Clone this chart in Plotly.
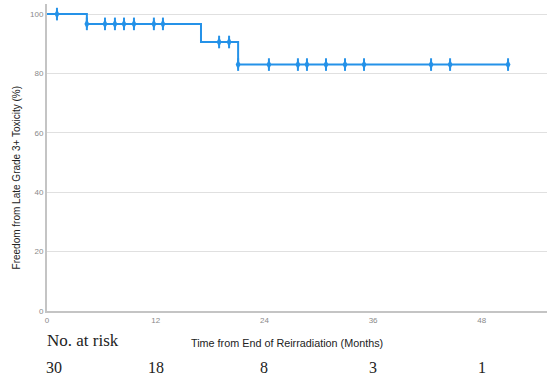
import plotly.graph_objects as go

# Kaplan-Meier step curve (event times and survival after event)
step_times = [0, 4.4, 17.0, 21.1, 50.9]
step_surv = [100, 96.7, 90.6, 83.0, 83.0]

# censored observations (months) and survival level at that time
censor_times = [1.1, 4.4, 6.4, 7.5, 8.5, 9.6, 11.8, 12.8, 19.0, 20.1, 21.1,
                24.5, 27.7, 28.7, 30.8, 32.9, 35.0, 42.4, 44.5, 50.9]
censor_surv = [100, 96.7, 96.7, 96.7, 96.7, 96.7, 96.7, 96.7, 90.6, 90.6, 83.0,
               83.0, 83.0, 83.0, 83.0, 83.0, 83.0, 83.0, 83.0, 83.0]

risk_times = [0, 12, 24, 36, 48]
risk_counts = [30, 18, 8, 3, 1]

x_ticks = [0, 12, 24, 36, 48]
y_ticks = [0, 20, 40, 60, 80, 100]

blue = "#2592e8"

fig = go.Figure()
fig.add_trace(go.Scatter(x=step_times, y=step_surv, mode="lines",
                         line=dict(color=blue, width=2, shape="hv"),
                         hoverinfo="skip", showlegend=False))
fig.add_trace(go.Scatter(x=censor_times, y=censor_surv, mode="markers",
                         marker=dict(symbol="diamond-tall", size=7, color=blue,
                                     line=dict(width=0)),
                         showlegend=False))
fig.add_trace(go.Scatter(x=censor_times, y=censor_surv, mode="markers",
                         marker=dict(symbol="line-ns", size=9,
                                     line=dict(width=2, color=blue)),
                         showlegend=False))

tick_font = dict(family="Liberation Sans, Arial", size=8, color="#8a8a8a")

fig.update_xaxes(range=[0, 55.2], tickvals=x_ticks, ticktext=[str(v) for v in x_ticks],
                 showgrid=False, zeroline=False, showline=True, linecolor="#c4c4c4",
                 linewidth=2, ticks="", tickfont=tick_font)
fig.update_yaxes(range=[0, 103.4], tickvals=y_ticks, ticktext=[str(v) for v in y_ticks],
                 showgrid=True, gridcolor="#e0e0e0", gridwidth=1, zeroline=False,
                 showline=True, linecolor="#c4c4c4", linewidth=2, ticks="",
                 tickfont=tick_font)

annotations = [
    dict(text="Freedom from Late Grade 3+ Toxicity (%)", xref="paper", yref="paper",
         x=-0.062, y=0.435, textangle=-90, showarrow=False, xanchor="center", yanchor="middle",
         font=dict(family="Liberation Sans, Arial", size=10, color="#222222")),
    dict(text="Time from End of Reirradiation (Months)", xref="paper", yref="paper",
         x=0.479, y=-0.103, showarrow=False, xanchor="center", yanchor="middle",
         font=dict(family="Liberation Sans, Arial", size=10.8, color="#222222")),
    dict(text="No. at risk", xref="paper", yref="paper", x=-0.004, y=-0.095,
         showarrow=False, xanchor="left", yanchor="middle",
         font=dict(family="Liberation Serif, Times New Roman", size=17, color="#222222")),
]
for t, n in zip(risk_times, risk_counts):
    annotations.append(dict(text=str(n), xref="x", yref="paper", x=t, y=-0.185,
                            xshift=7 if t == 0 else 0,
                            showarrow=False, xanchor="center", yanchor="middle",
                            font=dict(family="Liberation Serif, Times New Roman",
                                      size=16, color="#222222")))

fig.update_layout(width=547, height=381, margin=dict(l=47, r=0, t=4, b=70),
                  plot_bgcolor="white", paper_bgcolor="white",
                  annotations=annotations)

fig.write_html("out.html", config={"displayModeBar": False},
               post_script="document.body.style.margin='0';")
